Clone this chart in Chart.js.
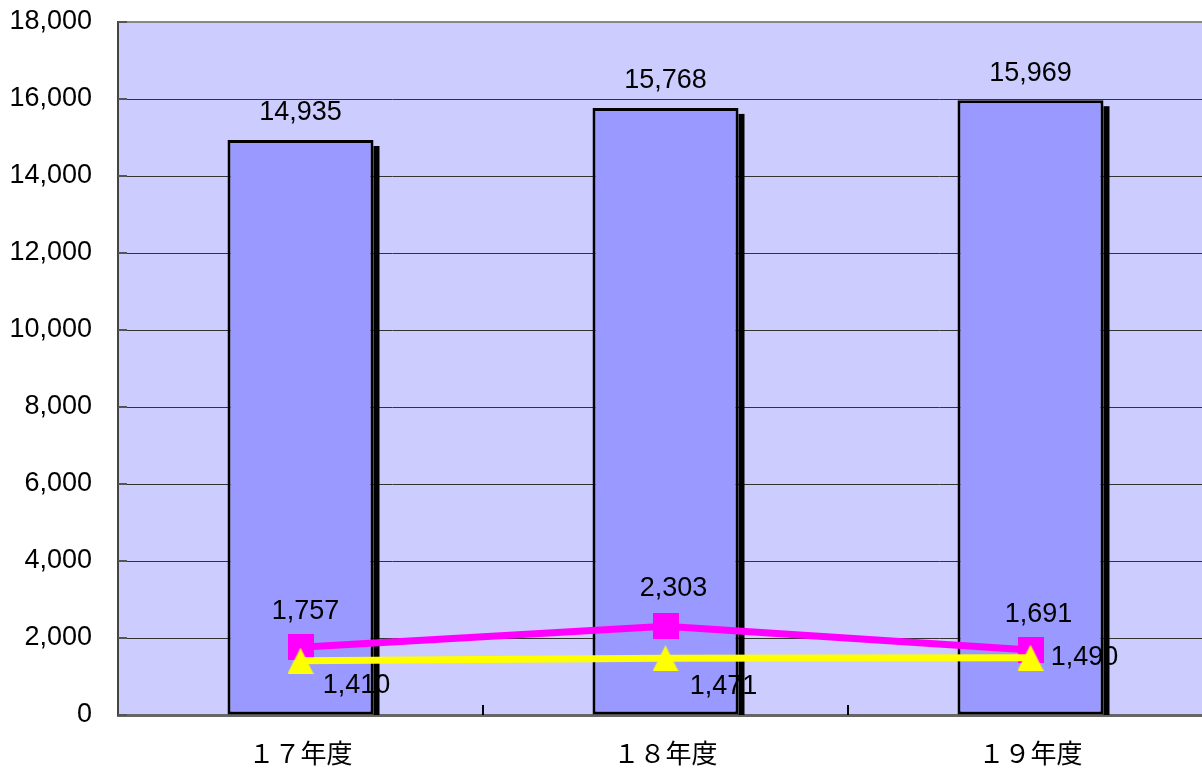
<!DOCTYPE html>
<html>
<head>
<meta charset="utf-8">
<script src="https://cdn.jsdelivr.net/npm/chart.js@4/dist/chart.umd.min.js"></script>
<style>
  html, body { margin: 0; padding: 0; background: #fff; overflow: hidden; }
  #wrap { position: absolute; left: 0; top: 0; width: 1213px; height: 769px; }
</style>
</head>
<body>
<div id="wrap"><canvas id="c" width="1213" height="769"></canvas></div>
<script>
// Fiscal years and their totals
const categories = ['１７年度', '１８年度', '１９年度'];
const barValues = [14935, 15768, 15969];
const magentaValues = [1757, 2303, 1691];
const yellowValues = [1410, 1471, 1490];
const yMin = 0;
const yMax = 18000;
const yStep = 2000;

// Where each line's value label sits relative to its point (px)
const magentaLabelOffsets = [[5, -36], [8, -38], [8, -35]];
const yellowLabelOffsets = [[56, 25], [58, 28], [54, 0]];

const NUM_FONT = '"Liberation Sans", Arial, sans-serif';
const JP_FONT = '"Noto Sans CJK JP", "Noto Sans", sans-serif';
const fmt = v => Number(v).toLocaleString('en-US');

function markerCanvas(kind, color, size) {
  const cv = document.createElement('canvas');
  cv.width = size; cv.height = size;
  const g = cv.getContext('2d');
  g.fillStyle = color;
  if (kind === 'tri') {
    g.beginPath();
    g.moveTo(size / 2, 0);
    g.lineTo(size, size);
    g.lineTo(0, size);
    g.closePath();
    g.fill();
  } else {
    g.fillRect(0, 0, size, size);
  }
  return cv;
}
const squareMarker = markerCanvas('sq', '#FF00FF', 26);
const triMarker = markerCanvas('tri', '#FFFF00', 26);

const BAR_INDEX = 2;

const decor = {
  id: 'decor',
  beforeDraw(chart) {
    const { ctx, chartArea: a } = chart;
    ctx.save();
    ctx.fillStyle = '#CCCCFF';
    ctx.fillRect(a.left, a.top, a.right - a.left, a.bottom - a.top);
    ctx.restore();
  },
  afterDatasetDraw(chart, args) {
    if (args.index !== BAR_INDEX) return;
    const { ctx, chartArea: a } = chart;
    ctx.save();
    // bar value labels
    ctx.fillStyle = '#000';
    ctx.font = '27px ' + NUM_FONT;
    ctx.textAlign = 'center';
    ctx.textBaseline = 'middle';
    const barMeta = chart.getDatasetMeta(BAR_INDEX);
    barMeta.data.forEach((el, i) => {
      ctx.fillText(fmt(barValues[i]), el.x, el.y - 27);
    });
    // line value labels
    const drawLineLabels = (dsIndex, values, offsets) => {
      chart.getDatasetMeta(dsIndex).data.forEach((pt, i) => {
        ctx.fillText(fmt(values[i]), pt.x + offsets[i][0], pt.y + offsets[i][1]);
      });
    };
    drawLineLabels(1, magentaValues, magentaLabelOffsets);
    drawLineLabels(0, yellowValues, yellowLabelOffsets);
    // bar drop shadow on the right side
    ctx.fillStyle = '#000';
    barMeta.data.forEach(el => {
      const right = el.x + el.width / 2;
      ctx.fillRect(right, el.y + 6, 6, a.bottom - (el.y + 6));
    });
    ctx.restore();
  },
  afterDraw(chart) {
    const { ctx, chartArea: a } = chart;
    const y = chart.scales.y;
    ctx.save();
    // top border
    ctx.strokeStyle = '#888888';
    ctx.lineWidth = 2;
    ctx.beginPath();
    ctx.moveTo(a.left, a.top);
    ctx.lineTo(a.right, a.top);
    ctx.stroke();
    // inward tick marks on the value axis
    ctx.strokeStyle = '#555555';
    ctx.lineWidth = 2;
    y.ticks.forEach(t => {
      const py = Math.round(y.getPixelForValue(t.value));
      ctx.beginPath();
      ctx.moveTo(a.left, py);
      ctx.lineTo(a.left + 9, py);
      ctx.stroke();
    });
    // inward tick marks between categories
    const n = categories.length;
    const step = (a.right - a.left) / n;
    ctx.strokeStyle = '#000';
    ctx.lineWidth = 2;
    for (let i = 1; i < n; i++) {
      const px = Math.round(a.left + i * step);
      ctx.beginPath();
      ctx.moveTo(px, a.bottom - 10);
      ctx.lineTo(px, a.bottom);
      ctx.stroke();
    }
    ctx.restore();
  }
};

new Chart(document.getElementById('c'), {
  data: {
    labels: categories,
    datasets: [
      {
        type: 'line',
        data: yellowValues,
        borderColor: '#FFFF00',
        borderWidth: 7,
        pointStyle: triMarker,
        pointRadius: 13,
        tension: 0,
        order: 0
      },
      {
        type: 'line',
        data: magentaValues,
        borderColor: '#FF00FF',
        borderWidth: 7,
        pointStyle: squareMarker,
        pointRadius: 13,
        tension: 0,
        order: 1
      },
      {
        type: 'bar',
        data: barValues,
        backgroundColor: '#9999FF',
        borderColor: '#000000',
        borderWidth: 3,
        borderSkipped: false,
        barPercentage: 0.4,
        categoryPercentage: 1,
        order: 2
      }
    ]
  },
  options: {
    responsive: false,
    animation: false,
    devicePixelRatio: 1,
    layout: { autoPadding: false, padding: { top: 22, right: 0, bottom: 0, left: 0 } },
    plugins: {
      legend: { display: false },
      tooltip: { enabled: false }
    },
    scales: {
      x: {
        offset: true,
        grid: { display: false, drawTicks: false },
        border: { display: true, color: '#666666', width: 3 },
        ticks: {
          color: '#000',
          font: { family: JP_FONT, size: 26 },
          padding: 23,
          maxRotation: 0
        },
        afterFit(scale) { scale.height = 54; }
      },
      y: {
        min: yMin,
        max: yMax,
        grid: {
          drawTicks: false,
          color: ctx => (ctx.tick && (ctx.tick.value === yMin || ctx.tick.value === yMax)) ? 'rgba(0,0,0,0)' : '#333333',
          lineWidth: 1
        },
        border: { display: true, color: '#444444', width: 2 },
        ticks: {
          stepSize: yStep,
          color: '#000',
          font: { family: NUM_FONT, size: 27 },
          padding: 26,
          callback: v => fmt(v)
        },
        afterFit(scale) {
          scale.width = 118;
          scale.paddingTop = 0;
          scale.paddingBottom = 0;
        }
      }
    }
  },
  plugins: [decor]
});
</script>
</body>
</html>
